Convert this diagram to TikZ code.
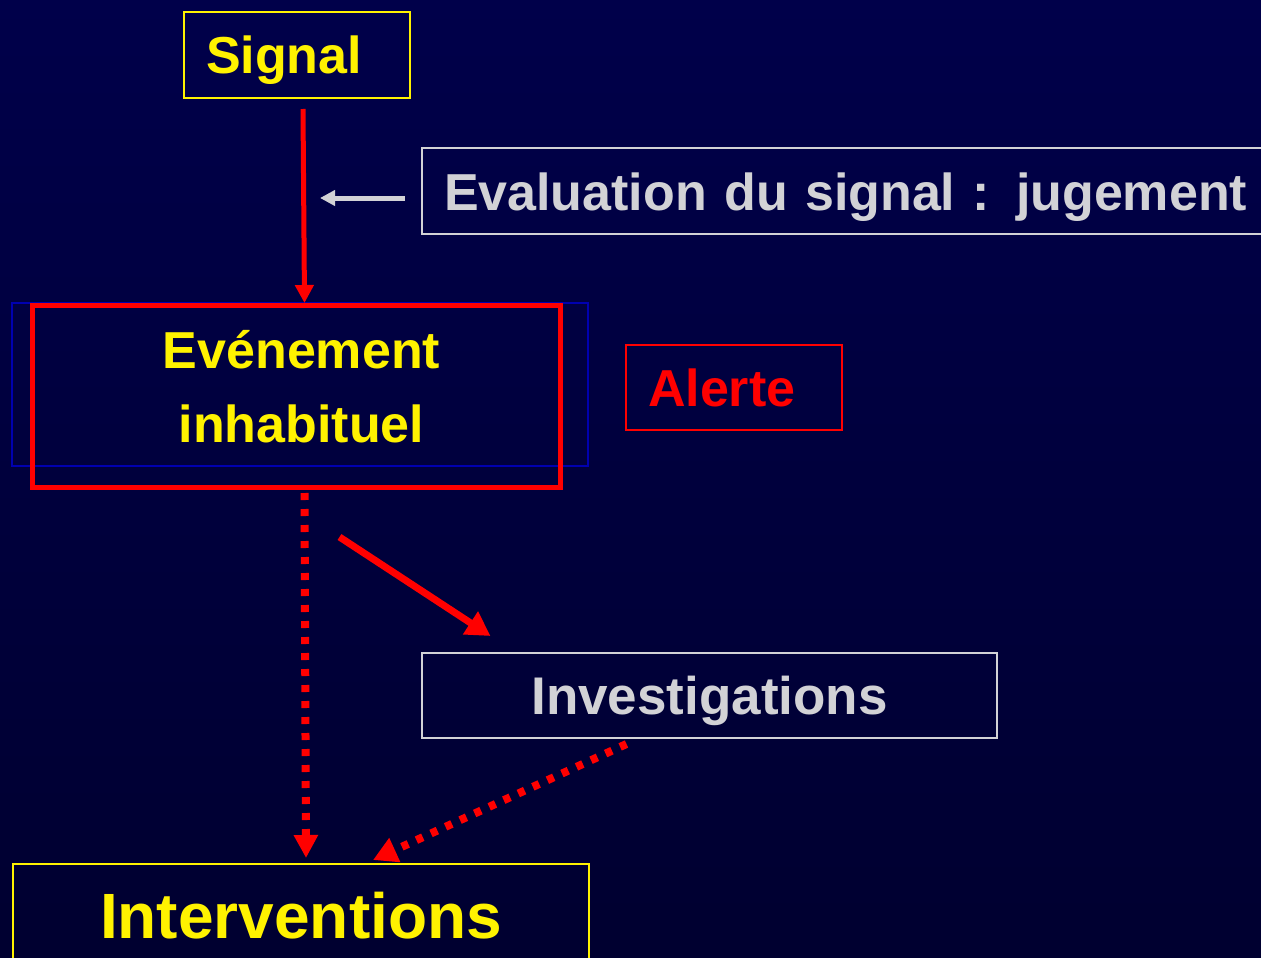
\documentclass[tikz,border=0pt]{standalone}
\usepackage{fontspec}
\setmainfont{Liberation Sans}
\usetikzlibrary{arrows.meta}

\definecolor{bgtop}{HTML}{00004A}
\definecolor{bgmid}{HTML}{000066}
\definecolor{bgbot}{HTML}{000030}
\definecolor{lightgrey}{HTML}{D2D2D6}
\definecolor{thinblue}{HTML}{0000B0}

\begin{document}
\begin{tikzpicture}[x=1pt, y=-1pt, font=\bfseries,
    yellowbox/.style={draw=yellow, line width=2pt, text=yellow, inner sep=0pt},
    greybox/.style={draw=lightgrey, line width=2pt, text=lightgrey, inner sep=0pt},
    bigtext/.style={font=\bfseries\fontsize{52}{60}\selectfont,
                    text height=49pt, text depth=11pt},
    redline/.style={draw=red, line width=5pt},
    dotline/.style={draw=red, line width=8pt, dash pattern=on 7pt off 9pt}]

  % Background gradient
  \shade[top color=bgtop, middle color=bgmid, bottom color=bgbot]
    (0,0) rectangle (1261,958);
  \useasboundingbox (0,0) rectangle (1261,958);

  % Signal
  \node[yellowbox, bigtext, anchor=north west, text width=182pt, inner xsep=22pt,
        align=left, minimum height=86pt]
    (signal) at (183,11) {Signal};

  % Evaluation du signal
  \node[greybox, bigtext, anchor=north west, text width=900pt, inner xsep=22pt,
        align=left, minimum height=86pt]
    (evaluation) at (421,147) {Evaluation du signal : jugement};

  % Evenement inhabituel (blue frame behind)
  \draw[thinblue, line width=1.5pt] (12,303) rectangle (588,466);
  \node[redline, text=yellow, anchor=north west, minimum width=528pt,
        minimum height=182pt, inner sep=0pt, align=center, text depth=20pt,
        font=\bfseries\fontsize{52}{74}\selectfont]
    (evenement) at (30,303) {\hspace{10pt}Evénement\\\hspace{10pt}inhabituel};

  % Alerte
  \node[draw=red, line width=2pt, text=red, bigtext, anchor=north west, inner sep=0pt,
        text width=172pt, inner xsep=22pt, align=left, minimum height=85pt]
    (alerte) at (625,344) {Alerte};

  % Investigations
  \node[greybox, bigtext, anchor=north west, minimum width=575pt, minimum height=85pt,
        font=\bfseries\fontsize{53}{60}\selectfont]
    (investigations) at (421,652) {Investigations};

  % Interventions
  \node[yellowbox, anchor=north west, minimum width=576pt, minimum height=104pt,
        font=\bfseries\fontsize{64}{74}\selectfont]
    (interventions) at (12,863) {Interventions};

  % Arrows
  \draw[redline, -{Triangle[length=18pt, width=18pt]}]
    ([xshift=6pt, yshift=-10pt]signal.south) -- ([xshift=8pt]evenement.north);
  \draw[lightgrey, line width=5pt, -{Triangle[length=15pt, width=15pt]}]
    ([xshift=-16pt, yshift=-7pt]evaluation.west) -- ([xshift=-101pt, yshift=-7pt]evaluation.west);
  \coordinate (diagstart) at ([shift={(43,47)}]evenement.south);
  \draw[red, line width=7pt, -{Triangle[length=24pt, width=26pt]}]
    (diagstart) -- ([xshift=-219pt, yshift=16pt]investigations.north);
  \draw[dotline, -{Triangle[length=23pt, width=23pt]}]
    ([xshift=8pt, yshift=-3pt]evenement.south) -- ([xshift=5pt, yshift=5pt]interventions.north);
  \draw[dotline, -{Triangle[length=24pt, width=25pt]}]
    ([xshift=-83pt, yshift=-5pt]investigations.south) -- ([xshift=72pt, yshift=3pt]interventions.north);

\end{tikzpicture}
\end{document}
